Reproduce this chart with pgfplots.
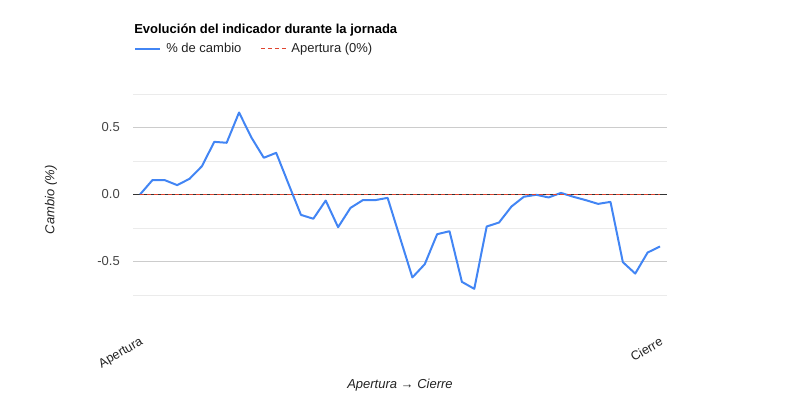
\documentclass[border=0pt]{standalone}
\usepackage{fontspec}
\setmainfont{Liberation Sans}
\usepackage{pgfplots}
\pgfplotsset{compat=1.18}

\definecolor{serieblue}{HTML}{4285F4}
\definecolor{refred}{HTML}{E0442F}
\definecolor{gridmajor}{HTML}{CCCCCC}
\definecolor{gridminor}{HTML}{EBEBEB}
\definecolor{ticktext}{HTML}{444444}
\definecolor{labeltext}{HTML}{222222}

% cambio (%) en cada corte, de apertura (0) a cierre (42)
\pgfplotstableread{
i   v
0   0.000
1   0.107
2   0.107
3   0.070
4   0.117
5   0.211
6   0.393
7   0.386
8   0.612
9   0.425
10  0.274
11  0.311
12  0.078
13  -0.152
14  -0.181
15  -0.045
16  -0.244
17  -0.100
18  -0.042
19  -0.042
20  -0.025
21  -0.322
22  -0.619
23  -0.520
24  -0.296
25  -0.274
26  -0.652
27  -0.704
28  -0.239
29  -0.209
30  -0.090
31  -0.017
32  -0.002
33  -0.022
34  0.012
35  -0.017
36  -0.042
37  -0.070
38  -0.055
39  -0.505
40  -0.590
41  -0.433
42  -0.388
}\cambio

\begin{document}
\begin{tikzpicture}
\path[use as bounding box] (0pt,0pt) rectangle (800pt,-400pt);
\begin{axis}[
    scale only axis,
    width=534pt, height=201pt,
    anchor=south west, at={(133pt,-295pt)},
    xmin=-0.565, xmax=42.565,
    ymin=-0.75, ymax=0.75,
    axis line style={draw=none},
    tick style={draw=none},
    ytick={-0.5,0,0.5},
    yticklabels={-0.5,0.0,0.5},
    minor ytick={-0.75,-0.25,0.25,0.75},
    ymajorgrids, yminorgrids,
    major grid style={gridmajor, line width=1pt},
    minor grid style={gridminor, line width=1pt},
    yticklabel style={font=\fontsize{13}{15}\selectfont, text=ticktext, inner sep=0pt, anchor=east, xshift=-13pt},
    xtick={0,42},
    xticklabels={Apertura,Cierre},
    % los desplazamientos van en el marco girado
    xticklabel style={font=\fontsize{12.6}{15}\selectfont, text=labeltext, rotate=30, anchor=north east, inner sep=0pt, yshift=-35.3pt, xshift=-21.3pt},
    xlabel={Apertura → Cierre},
    xlabel style={font=\itshape\fontsize{13}{15}\selectfont, text=labeltext, at={(axis description cs:0.5,-0.45)}, anchor=center},
    ylabel={Cambio (\%)},
    ylabel style={font=\itshape\fontsize{13}{15}\selectfont, text=labeltext, at={(axis description cs:-0.1536,0.473)}, anchor=center, rotate=0},
    title={Evolución del indicador durante la jornada},
    title style={font=\bfseries\fontsize{13}{15}\selectfont, at={(axis description cs:0.002,1.27)}, anchor=base west, inner sep=0pt},
    legend columns=2,
    legend cell align=left,
    legend image code/.code={\draw[#1] (0pt,0pt) -- (25pt,0pt);},
    legend style={draw=none, fill=none, inner sep=0pt, at={(axis description cs:0.002,1.225)}, anchor=west,
        font=\fontsize{13}{15}\selectfont,
        nodes={inner xsep=5pt, inner ysep=0pt},
        /tikz/every even column/.append style={column sep=14pt}},
]
\addplot[forget plot, color=black!80, line width=1pt] coordinates {(-0.565,0) (42.565,0)};
\addplot[color=serieblue, line width=2pt, line join=round] table[x=i, y=v] {\cambio};
\addlegendentry{\textcolor{labeltext}{\% de cambio}}
\addplot[draw=refred, color=refred, line width=1pt, dash pattern=on 4pt off 3pt] coordinates {(0,0) (42,0)};
\addlegendentry{\textcolor{labeltext}{Apertura (0\%)}}
\end{axis}
\end{tikzpicture}
\end{document}
